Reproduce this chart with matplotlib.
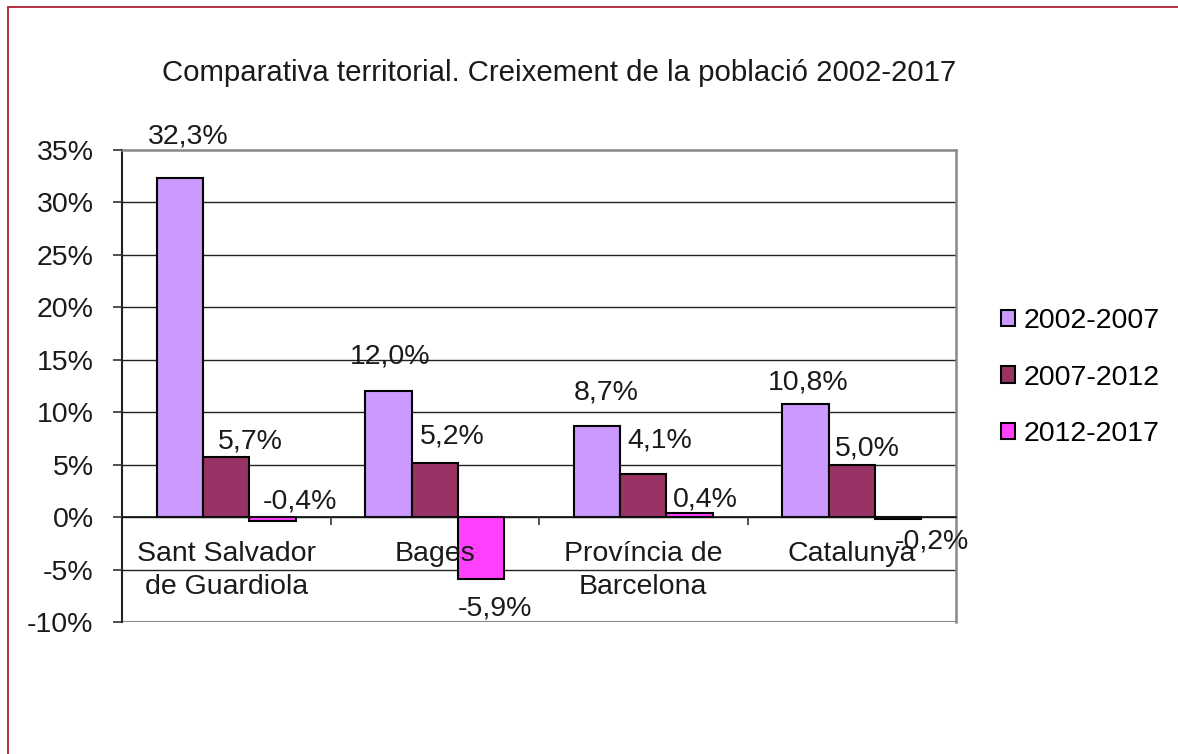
import numpy as np
import matplotlib.pyplot as plt
from matplotlib.patches import Rectangle

# Comparativa territorial — creixement de la població
TERRITORIS = ["Sant Salvador\nde Guardiola", "Bages", "Província de\nBarcelona", "Catalunya"]
PERIODES   = ["2002-2007", "2007-2012", "2012-2017"]
V_0207 = [32.3, 12.0, 8.7, 10.8]
V_0712 = [5.7, 5.2, 4.1, 5.0]
V_1217 = [-0.4, -5.9, 0.4, -0.2]
Y_TICKS = [-10, -5, 0, 5, 10, 15, 20, 25, 30, 35]

COLORS = ["#CC99FF", "#993366", "#FF40FF"]
FONT   = "Liberation Sans"
FS     = 20.5
TXT    = "#1a1a1a"

# label offsets in points (dx, dy) from bar end — mimics the original placement
LBL_OFF = [
    [(6, 30), (1, 25), (6.5, 24), (2, 15)],
    [(17, 11.5), (12.5, 19), (12, 24), (11, 11.5)],
    [(20, 14.5), (10, -21), (11, 10), (24, -16)],
]

plt.rcParams["font.family"] = [FONT, "DejaVu Sans"]

fig = plt.figure(figsize=(11.78, 7.54), dpi=100)
fig.patches.append(Rectangle((7.5 / 1178, -0.1), 1.2, 1.1 - 7.5 / 754,
                             transform=fig.transFigure, fill=False,
                             edgecolor="#B02035", linewidth=1.3))
ax = fig.add_axes([122 / 1178, 132 / 754, 834 / 1178, 472 / 754])
ax.set_axisbelow(False)

series = [V_0207, V_0712, V_1217]
x = np.arange(len(TERRITORIS))
w = 1 / 4.5
for i, vals in enumerate(series):
    xs = x + (i - 1) * w
    ax.bar(xs, vals, width=w, color=COLORS[i], edgecolor="black",
           linewidth=1.5, label=PERIODES[i], zorder=2)
    for j, v in enumerate(vals):
        dx, dy = LBL_OFF[i][j]
        ax.annotate(f"{v:.1f}%".replace(".", ","), (xs[j], v),
                    xytext=(dx, dy), textcoords="offset points",
                    ha="center", va="center", fontsize=FS, color=TXT,
                    zorder=5, annotation_clip=False)

ax.set_xlim(-0.5, len(TERRITORIS) - 0.5)
ax.set_ylim(-10, 35)
ax.set_yticks(Y_TICKS)
ax.set_yticklabels([f"{t}%" for t in Y_TICKS], fontsize=FS, color=TXT)
ax.tick_params(axis="y", length=6.5, width=1.2, pad=14, color="#333333")

for t in Y_TICKS[1:-1]:
    ax.axhline(t, color="#222222", linewidth=1.0, zorder=1)
ax.axhline(-10, color="#888888", linewidth=2.2, zorder=1)

for s in ["top", "right"]:
    ax.spines[s].set_color("#888888")
    ax.spines[s].set_linewidth(1.8)
ax.spines["left"].set_color("#222222")
ax.spines["left"].set_linewidth(1.5)
ax.spines["bottom"].set_position(("data", 0))
ax.spines["bottom"].set_color("#111111")
ax.spines["bottom"].set_linewidth(1.2)

ax.set_xticks(x)
ax.set_xticklabels(TERRITORIS, fontsize=FS, color=TXT, linespacing=1.35)
ax.tick_params(axis="x", length=0, pad=17)
ax.set_xticks(x[:-1] + 0.5, minor=True)
ax.tick_params(axis="x", which="minor", length=6, width=1.2, direction="out",
               color="#333333")

fig.text(559 / 1178, 1 - 73 / 754,
         "Comparativa territorial. Creixement de la població 2002-2017",
         ha="center", va="center", fontsize=21.2, color=TXT)

leg = ax.legend(loc="center left", bbox_to_anchor=(1.04, 0.518), frameon=False,
                fontsize=FS, handlelength=0.5, handleheight=0.5,
                handletextpad=0.3, labelspacing=1.08, borderaxespad=0)

fig.savefig("out.png", dpi=100)
